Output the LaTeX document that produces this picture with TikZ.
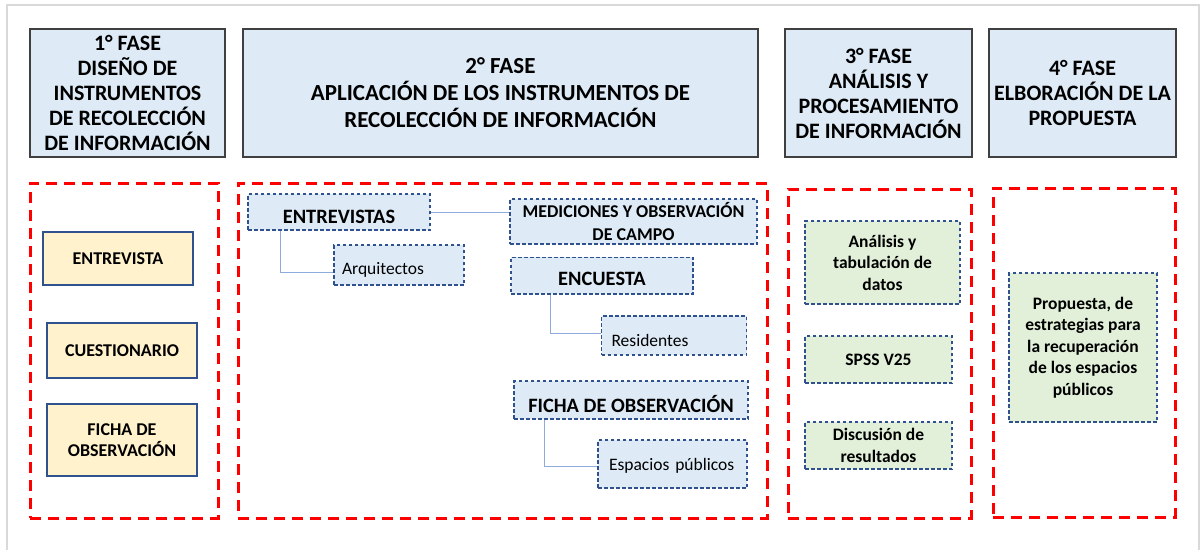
\documentclass[tikz,border=0pt]{standalone}
\usepackage{fontspec}
\setmainfont{Carlito}
\usepackage{xcolor}
\usepackage{tikz}
\usetikzlibrary{positioning}
\definecolor{hfill}{HTML}{DEEBF7}
\definecolor{yfill}{HTML}{FFF2CC}
\definecolor{gfill}{HTML}{E2F0D9}
\definecolor{bline}{HTML}{2F528F}
\definecolor{cline}{HTML}{8FAADC}
\definecolor{fred}{HTML}{FF0000}
\definecolor{hline}{HTML}{404040}
\definecolor{pgray}{HTML}{D9D9D9}
\newcommand{\dn}[2]{\raisebox{-#1}[\height][\depth]{#2}}

\begin{document}
\begin{tikzpicture}[
  x=1pt,y=-1pt,
  hd/.style={draw=hline,line width=1.2pt,fill=hfill,align=center,inner sep=1pt,outer sep=0pt,
             minimum height=128pt,font=\bfseries\fontsize{22}{25}\selectfont},
  fr/.style={draw=fred,line width=3pt,dash pattern=on 11pt off 7pt},
  yb/.style={draw=bline,line width=1.3pt,fill=yfill,align=center,minimum width=150pt,
             font=\bfseries\fontsize{18}{21.5}\selectfont},
  bb/.style={draw=bline,line width=1.2pt,dash pattern=on 3.5pt off 2.5pt,fill=hfill,inner sep=3pt},
  big/.style={bb,font=\bfseries\fontsize{20.4}{24}\selectfont},
  lf/.style={bb,align=left,font=\fontsize{17.5}{21.5}\selectfont},
  gb/.style={bb,fill=gfill,align=center,font=\bfseries\fontsize{17.5}{21.5}\selectfont},
  ln/.style={draw=cline,line width=1pt}
]
\useasboundingbox (0,0) rectangle (1204,550);
\draw[pgray,line width=1.5pt] (7,550) -- (7,5) -- (1199,5) -- (1199,550);

% phases
\node[hd,minimum width=195pt] (h1) at (127.5,93)
  {1° FASE\\DISEÑO DE\\INSTRUMENTOS\\DE RECOLECCIÓN\\DE INFORMACIÓN};
\node[hd,minimum width=515pt,right=18pt of h1,font=\bfseries\fontsize{23}{27}\selectfont] (h2)
  {2° FASE\\APLICACIÓN DE LOS INSTRUMENTOS DE\\RECOLECCIÓN DE INFORMACIÓN};
\node[hd,minimum width=187pt,right=27pt of h2] (h3)
  {3° FASE\\ANÁLISIS Y\\PROCESAMIENTO\\DE INFORMACIÓN};
\node[hd,minimum width=187pt,right=17pt of h3] (h4)
  {4° FASE\\ELBORACIÓN DE LA\\PROPUESTA};

% frames
\node[fr,minimum width=188pt,minimum height=335pt] (f1) at (124,350.5) {};
\node[fr,minimum width=529pt,minimum height=335pt] (f2) at (502.5,350.5) {};
\node[fr,minimum width=183pt,minimum height=329pt] (f3) at (879.5,353.5) {};
\node[fr,minimum width=182pt,minimum height=329pt] (f4) at (1084,352.5) {};

% instruments
\node[yb,minimum height=53pt] (entv) at (118,258.5) {ENTREVISTA};
\node[yb,minimum height=55pt] (cues) at (122,350.5) {CUESTIONARIO};
\node[yb,minimum height=72pt] (fich) at (122,440) {FICHA DE\\OBSERVACIÓN};

% application
\node[big,minimum width=182pt,minimum height=36pt] (ent) at (339,212) {\dn{5pt}{ENTREVISTAS}};
\node[lf,inner xsep=8pt,text width=114pt,minimum height=40pt] (arq) at (399,265)
  {\dn{5pt}{Arquitectos}};
\node[bb,align=center,font=\bfseries\fontsize{18}{22.6}\selectfont,
      minimum width=247pt,minimum height=45pt] (med) at (633.5,221.5)
  {MEDICIONES Y OBSERVACIÓN\\DE CAMPO};
\node[big,minimum width=182pt,minimum height=36.5pt] (enc) at (602,275.7) {\dn{3pt}{ENCUESTA}};
\node[lf,inner xsep=10pt,text width=125pt,minimum height=39pt] (res) at (674,335.5)
  {\dn{5pt}{Residentes}};
\node[big,minimum width=234pt,minimum height=38pt] (fic) at (631,400)
  {\dn{4pt}{FICHA DE OBSERVACIÓN}};
\node[lf,inner xsep=11pt,text width=127pt,minimum height=48pt] (esp) at (672.5,464)
  {\dn{2pt}{Espacios públicos}};

\draw[ln] (ent.east) -- (ent.east -| med.west);
\draw[ln] ([xshift=33pt]ent.south west) |- ([yshift=-7.5pt]arq.west);
\draw[ln] ([xshift=40pt]enc.south west) |- ([yshift=2.5pt]res.west);
\draw[ln] ([xshift=31pt]fic.south west) |- ([yshift=-2pt]esp.west);

% analysis and proposal
\node[gb,minimum width=155pt,minimum height=83pt] (an) at (882.5,262.5)
  {Análisis y\\tabulación de\\datos};
\node[gb,minimum width=147pt,minimum height=47pt] (sps) at (878.5,359.5) {SPSS V25};
\node[gb,minimum width=147pt,minimum height=47pt] (dis) at (878.5,445.5)
  {Discusión de\\resultados};
\node[gb,minimum width=148pt,minimum height=149pt] (prop) at (1083,347.5)
  {Propuesta, de\\estrategias para\\la recuperación\\de los espacios\\públicos};
\end{tikzpicture}
\end{document}
